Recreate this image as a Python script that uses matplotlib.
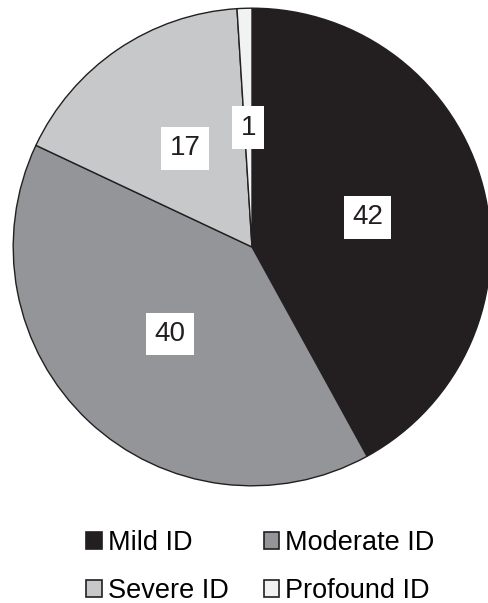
import matplotlib
matplotlib.use("Agg")
import matplotlib.pyplot as plt
from matplotlib.patches import Patch

plt.rcParams['font.family'] = ['Liberation Sans', 'DejaVu Sans']

categories = ["Mild ID", "Moderate ID", "Severe ID", "Profound ID"]
values = [42, 40, 17, 1]
colors = ["#231f20", "#939598", "#c7c8ca", "#f1f2f2"]

fig = plt.figure(figsize=(4.89, 6.03), dpi=100)
ax = fig.add_axes([12/489, (603-487)/603, 480/489, 480/603])

wedges, texts = ax.pie(values, colors=colors, startangle=90, counterclock=False,
                       labels=[str(v) for v in values], labeldistance=0.5,
                       wedgeprops=dict(edgecolor="#231f20", linewidth=1.0),
                       textprops=dict(fontsize=20, color="#231f20", ha="center", va="center"))
for t in texts:
    t.set_bbox(dict(boxstyle="square,pad=0.3", fc="white", ec="none"))
ax.set_xlim(-1.005, 1.005)
ax.set_ylim(-1.005, 1.005)
ax.set_aspect("equal")

handles = [Patch(facecolor=c, edgecolor="#231f20", linewidth=1.2) for c in colors]
order = [0, 2, 1, 3]
fig.legend([handles[i] for i in order], [categories[i] for i in order],
           ncol=2, loc="center", bbox_to_anchor=(0.532, 0.0597), frameon=False,
           fontsize=19.5, handlelength=0.58, handleheight=0.58, handletextpad=0.2,
           columnspacing=1.3, labelspacing=0.8, borderpad=0)

fig.savefig("out.png", dpi=100)
